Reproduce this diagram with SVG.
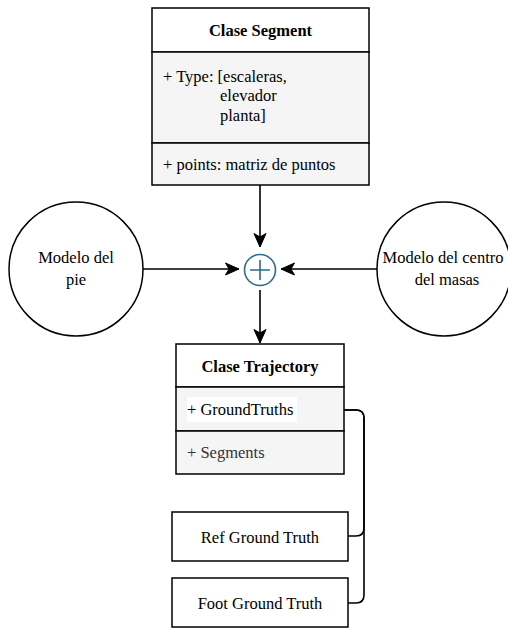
<svg xmlns="http://www.w3.org/2000/svg" width="508" height="629" viewBox="0 0 508 629">
<defs>
<style>
text{font-family:"Liberation Serif","Times New Roman",serif;font-size:16.5px;fill:#000}
.b{font-weight:bold}
.c{text-anchor:middle}
.box{fill:#fff;stroke:#000;stroke-width:1.5}
.sec{fill:#f5f5f5;stroke:#000;stroke-width:1.5}
.edge{fill:none;stroke:#000;stroke-width:1.6}
</style>
<marker id="arr" markerUnits="userSpaceOnUse" markerWidth="16" markerHeight="14" viewBox="0 0 16 14" refX="14.5" refY="7" orient="auto">
<path d="M1,1 L14.5,7 L1,13 L4.5,7 Z" fill="#000" stroke="#000" stroke-width="1"/>
</marker>
</defs>
<rect width="508" height="629" fill="#fff"/>
<g id="clase-segment">
<rect class="box" x="152" y="8" width="217" height="44"/>
<rect class="sec" x="152" y="52" width="217" height="91"/>
<rect class="sec" x="152" y="143" width="217" height="42"/>
<text class="b c" x="260.5" y="36">Clase Segment</text>
<text x="163" y="82">+ Type: [escaleras,</text>
<text x="220" y="101">elevador</text>
<text x="220" y="121">planta]</text>
<text x="163" y="170">+ points: matriz de puntos</text>
</g>
<g id="modelo-pie">
<circle cx="76" cy="269" r="67" fill="#fff" stroke="#000" stroke-width="1.5"/>
<text class="c" x="76" y="263">Modelo del</text>
<text class="c" x="76" y="285">pie</text>
</g>
<g id="modelo-centro">
<circle cx="444" cy="269" r="67" fill="#fff" stroke="#000" stroke-width="1.5"/>
<text class="c" x="443" y="263">Modelo del centro</text>
<text class="c" x="447" y="285">del masas</text>
</g>
<g id="suma">
<circle cx="260" cy="270" r="15.5" fill="#fff" stroke="#2b6a8a" stroke-width="1.6"/>
<path d="M260,260 V280 M250,270 H270" stroke="#2b6a8a" stroke-width="1.6" fill="none"/>
</g>
<g id="clase-trajectory">
<rect class="box" x="176" y="344" width="168" height="43"/>
<rect class="sec" x="176" y="387" width="168" height="44"/>
<rect class="sec" x="176" y="431" width="168" height="43"/>
<text class="b c" x="260" y="372">Clase Trajectory</text>
<rect x="187" y="397" width="110" height="25" fill="#fff"/>
<text x="187" y="415">+ GroundTruths</text>
<text x="187" y="458" style="fill:#333">+ Segments</text>
</g>
<g id="ref-ground-truth">
<rect class="box" x="172" y="512" width="176" height="49"/>
<text class="c" x="260" y="543">Ref Ground Truth</text>
</g>
<g id="foot-ground-truth">
<rect class="box" x="172" y="578" width="176" height="49"/>
<text class="c" x="260" y="609">Foot Ground Truth</text>
</g>
<g id="connectors">
<path class="edge" d="M260,185 V247" marker-end="url(#arr)"/>
<path class="edge" d="M143,269 H239" marker-end="url(#arr)"/>
<path class="edge" d="M377,269 H281" marker-end="url(#arr)"/>
<path class="edge" d="M260,290 V343" marker-end="url(#arr)"/>
<path class="edge" d="M344,410 H356 Q364,410 364,418 V528 Q364,536 356,536 H348"/>
<path class="edge" d="M344,410 H356 Q364,410 364,418 V595 Q364,603 356,603 H348"/>
</g>
</svg>
